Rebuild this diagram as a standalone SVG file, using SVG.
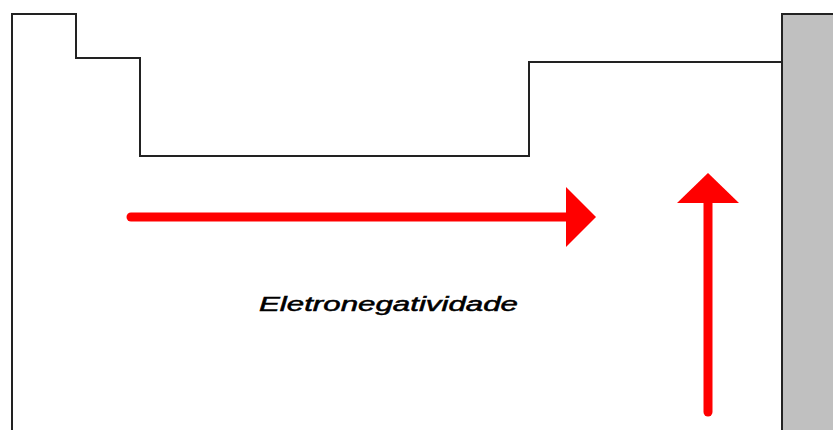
<svg xmlns="http://www.w3.org/2000/svg" width="833" height="430" viewBox="0 0 833 430">
<style>
.outline{fill:none;stroke:#222;stroke-width:2}
.arrow{stroke:#ff0000;stroke-width:9;stroke-linecap:round;fill:none}
.head{fill:#ff0000}
.lbl{font-family:"Liberation Sans",Arial,sans-serif;font-style:italic;font-size:19.5px;fill:#000;stroke:#000;stroke-width:0.5}
</style>
<rect width="833" height="430" fill="#fff"/>
<g id="gray-block">
<rect x="782" y="14" width="60" height="430" fill="#c0c0c0" stroke="#222" stroke-width="2"/>
</g>
<g id="table-outline">
<path class="outline" d="M12,431 V14 H76 V58 H140 V156 H529 V62 H782"/>
</g>
<g id="connectors">
<line class="arrow" x1="131" y1="217" x2="570" y2="217"/>
<polygon class="head" points="566,187 596,217 566,247"/>
<line class="arrow" x1="708" y1="412" x2="708" y2="200"/>
<polygon class="head" points="677,203 708,173 739,203"/>
</g>
<g id="label">
<text class="lbl" x="259" y="311" textLength="259" lengthAdjust="spacingAndGlyphs">Eletronegatividade</text>
</g>
</svg>
